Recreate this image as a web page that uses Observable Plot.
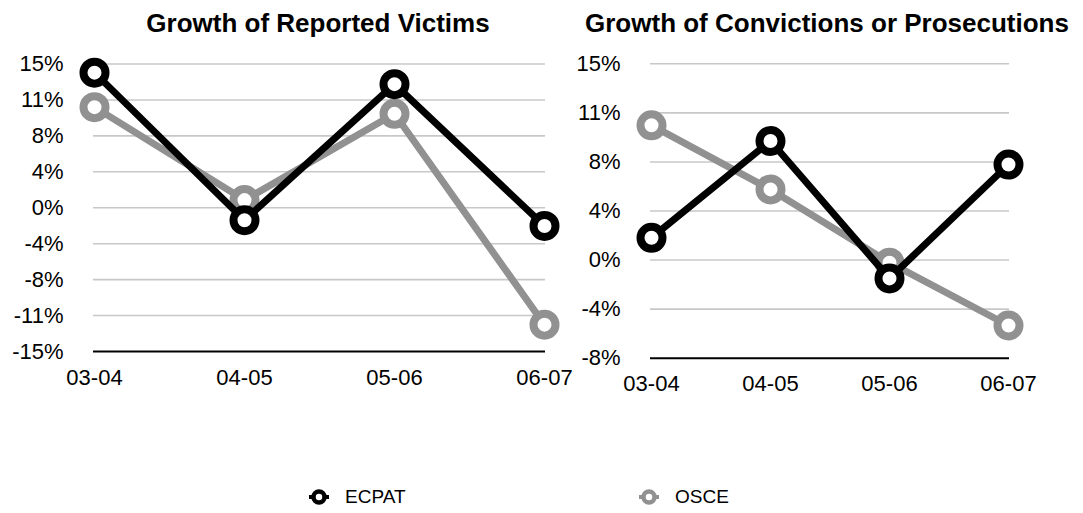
<!DOCTYPE html>
<html>
<head>
<meta charset="utf-8">
<script src="https://cdn.jsdelivr.net/npm/d3@7"></script>
<script src="https://cdn.jsdelivr.net/npm/@observablehq/plot@0.6"></script>
<style>
  html, body { margin: 0; padding: 0; background: #fff; overflow: hidden; }
  #page { position: relative; width: 1083px; height: 513px; font-family: "Liberation Sans", Arial, Helvetica, sans-serif; color: #000; }
  .panel { position: absolute; top: 0; }
  .panel svg { overflow: visible; }
  .title { position: absolute; top: 8px; z-index: 2; font-size: 26px; font-weight: bold; line-height: 30px; text-align: center; white-space: nowrap; }
  .legend { position: absolute; top: 485px; z-index: 2; display: flex; align-items: center; font-size: 19px; line-height: 24px; }
  .legend svg { margin-right: 15px; }
</style>
</head>
<body>
<div id="page">
  <div id="left" class="panel" style="left:0px;"></div>
  <div id="right" class="panel" style="left:560px;"></div>
  <div class="title" style="left:0px;width:636px;">Growth of Reported Victims</div>
  <div class="title" style="left:580px;width:494px;">Growth of Convictions or Prosecutions</div>
  <div class="legend" style="left:308px;"><svg width="22" height="24"><line x1="1" x2="21" y1="12" y2="12" stroke="#000" stroke-width="4"/><circle cx="11" cy="12" r="5.5" fill="#fff" stroke="#000" stroke-width="4.5"/></svg>ECPAT</div>
  <div class="legend" style="left:638px;"><svg width="22" height="24"><line x1="1" x2="21" y1="12" y2="12" stroke="#919191" stroke-width="4"/><circle cx="11" cy="12" r="5.5" fill="#fff" stroke="#919191" stroke-width="4.5"/></svg>OSCE</div>
</div>
<script>
// Reporting periods shared by both panels
const periods = ["03-04", "04-05", "05-06", "06-07"];

// Year-over-year growth of reported victims (%)
const victimsECPAT = [14.1, -1.3, 12.9, -1.9];
const victimsOSCE = [10.5, 0.8, 9.8, -12.2];

// Year-over-year growth of convictions or prosecutions (%)
const convictionsECPAT = [1.7, 9.1, -1.4, 7.3];
const convictionsOSCE = [10.3, 5.4, -0.2, -5.0];

// Gridline positions and their labels
const victimsTicks = [-15, -11.25, -7.5, -3.75, 0, 3.75, 7.5, 11.25, 15];
const victimsTickLabels = ["-15%", "-11%", "-8%", "-4%", "0%", "4%", "8%", "11%", "15%"];
const convictionsTicks = [-7.5, -3.75, 0, 3.75, 7.5, 11.25, 15];
const convictionsTickLabels = ["-8%", "-4%", "0%", "4%", "8%", "11%", "15%"];

const ECPAT_COLOR = "#000000";
const OSCE_COLOR = "#919191";
const GRID_COLOR = "#c8c8c8";

function rows(values, series) {
  return periods.map((p, i) => ({period: p, value: values[i], series}));
}

function panel({width, height, margins, domain, ticks, tickLabels, ecpat, osce, xPad}) {
  const ecpatRows = rows(ecpat, "ECPAT");
  const osceRows = rows(osce, "OSCE");
  const labelOf = new Map(ticks.map((t, i) => [t, tickLabels[i]]));
  const bottom = domain[0];
  return Plot.plot({
    width, height,
    marginLeft: margins[3], marginRight: margins[1], marginTop: margins[0], marginBottom: margins[2],
    style: {fontFamily: "'Liberation Sans', Arial, Helvetica, sans-serif", fontSize: "22px", color: "#000", background: "transparent", overflow: "visible"},
    x: {type: "point", domain: periods, padding: 0},
    y: {domain, ticks},
    marks: [
      Plot.ruleY(ticks.filter(t => t !== bottom), {stroke: GRID_COLOR, strokeWidth: 1.6}),
      Plot.ruleY([bottom], {stroke: "#000", strokeWidth: 2}),
      Plot.axisY({ticks, tickSize: 0, tickPadding: 30, fontSize: 22, tickFormat: d => labelOf.get(d), label: null}),
      Plot.axisX({tickSize: 0, tickPadding: xPad, fontSize: 22, label: null}),
      Plot.line(osceRows, {x: "period", y: "value", stroke: OSCE_COLOR, strokeWidth: 7, strokeLinejoin: "round"}),
      Plot.dot(osceRows, {x: "period", y: "value", r: 11, stroke: OSCE_COLOR, strokeWidth: 8, fill: "#fff"}),
      Plot.line(ecpatRows, {x: "period", y: "value", stroke: ECPAT_COLOR, strokeWidth: 7, strokeLinejoin: "round"}),
      Plot.dot(ecpatRows, {x: "period", y: "value", r: 11, stroke: ECPAT_COLOR, strokeWidth: 8, fill: "#fff"})
    ]
  });
}

document.getElementById("left").append(panel({
  width: 560, height: 400,
  margins: [63.5, 15, 49, 93],
  domain: [-15, 15],
  ticks: victimsTicks, tickLabels: victimsTickLabels,
  ecpat: victimsECPAT, osce: victimsOSCE,
  xPad: 18
}));

document.getElementById("right").append(panel({
  width: 523, height: 400,
  margins: [63.3, 74, 42.3, 90],
  domain: [-7.5, 15],
  ticks: convictionsTicks, tickLabels: convictionsTickLabels,
  ecpat: convictionsECPAT, osce: convictionsOSCE,
  xPad: 17
}));
</script>
</body>
</html>
